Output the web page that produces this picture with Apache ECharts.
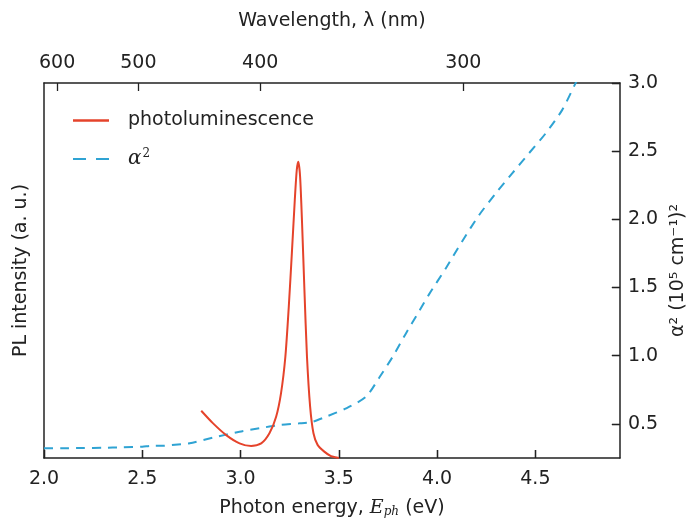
<!DOCTYPE html>
<html>
<head>
<meta charset="UTF-8">
<title>PL and absorption</title>
<script src="https://cdn.jsdelivr.net/npm/echarts@6/dist/echarts.min.js"></script>
<style>
  html, body { margin: 0; padding: 0; background: #fff; }
  #chart { width: 696px; height: 525px; }
</style>
</head>
<body>
<div id="chart"></div>
<script>
// photon energy (eV) <-> wavelength (nm)
const HC = 1240;

// bottom / top / right tick labels
const energyTicks = [2.0, 2.5, 3.0, 3.5, 4.0, 4.5];
const wavelengthTicks = [600, 500, 400, 300];
const alphaTicks = [0.5, 1.0, 1.5, 2.0, 2.5, 3.0];

// photoluminescence (arbitrary units)
const plEnergy = [2.80, 2.859, 2.927, 2.995, 3.054, 3.105, 3.147, 3.181, 3.206, 3.228, 3.245, 3.262, 3.276, 3.286, 3.294,
  3.303, 3.313, 3.325, 3.338, 3.354, 3.371, 3.392, 3.426, 3.46, 3.482, 3.50];
const plIntensity = [0.126, 0.093, 0.061, 0.039, 0.032, 0.039, 0.066, 0.11, 0.173, 0.27, 0.40, 0.555, 0.688, 0.768, 0.79,
  0.75, 0.626, 0.448, 0.27, 0.137, 0.066, 0.035, 0.017, 0.005, 0.002, 0.0];

// alpha^2 (10^5 cm^-1)^2
const absEnergy = [2.00, 2.10, 2.20, 2.30, 2.40, 2.50, 2.55, 2.60, 2.70, 2.741, 2.859, 2.995, 3.096, 3.198, 3.299, 3.367,
  3.435, 3.537, 3.638, 3.706, 3.773, 3.84, 3.91, 3.959, 4.044, 4.128, 4.213, 4.298, 4.382, 4.467, 4.552, 4.636, 4.704, 4.72];
const absAlpha2 = [0.321, 0.322, 0.323, 0.325, 0.328, 0.333, 0.340, 0.340, 0.352, 0.358, 0.399, 0.443, 0.468, 0.492, 0.504, 0.516,
  0.553, 0.614, 0.699, 0.84, 0.99, 1.16, 1.33, 1.45, 1.64, 1.84, 2.03, 2.19, 2.337, 2.484, 2.63, 2.801, 2.997, 3.04];

const FONT = 'DejaVu Sans';
const INK = '#222';
const RED = '#e5432b';
const BLUE = '#2fa3d3';
const E_MIN = 2.0, E_MAX = 4.93;
const A_MIN = 0.25, A_MAX = 3.0;

const chart = echarts.init(document.getElementById('chart'), null, { renderer: 'canvas' });

const frameLine = () => ({ show: true, onZero: false, lineStyle: { color: INK, width: 1.5 } });
const inTick = (vals) => ({ show: true, inside: true, length: 8, customValues: vals, lineStyle: { color: INK, width: 1.3 } });

chart.setOption({
  animation: false,
  textStyle: { fontFamily: FONT },
  grid: { left: 44, right: 75, top: 83, bottom: 67 },
  legend: {
    orient: 'vertical',
    left: 68,
    top: 106,
    itemWidth: 36,
    itemHeight: 2.5,
    itemGap: 18,
    data: [
      { name: 'photoluminescence', icon: 'rect' },
      { name: 'α²', icon: 'path://M0,0h13v2h-13z M23,0h13v2h-13z' }
    ],
    formatter: name => name === 'α²' ? '{g|α}{s|2}' : name,
    textStyle: {
      fontFamily: FONT, fontSize: 19, color: INK, padding: [0, 0, 0, 14],
      rich: {
        g: { fontFamily: 'DejaVu Serif', fontStyle: 'italic', fontSize: 20, color: INK },
        s: { fontFamily: 'DejaVu Serif', fontSize: 12, color: INK, verticalAlign: 'top', padding: [0, 0, 10, 1] }
      }
    }
  },
  xAxis: [
    {
      type: 'value', position: 'bottom', min: E_MIN, max: E_MAX,
      axisLine: frameLine(),
      axisTick: inTick(energyTicks),
      splitLine: { show: false },
      axisLabel: {
        customValues: energyTicks, margin: 12, fontSize: 19, color: INK, fontFamily: FONT,
        formatter: v => v.toFixed(1)
      },
      name: '{a|Photon energy, }{i|E}{sub|ph}{a| (eV)}',
      nameLocation: 'middle', nameGap: 40,
      nameTextStyle: {
        fontSize: 19, color: INK,
        rich: {
          a: { fontFamily: FONT, fontSize: 19, color: INK },
          i: { fontFamily: 'DejaVu Serif', fontStyle: 'italic', fontSize: 19, color: INK },
          sub: { fontFamily: 'DejaVu Serif', fontStyle: 'italic', fontSize: 12, color: INK, verticalAlign: 'bottom', padding: [8, 0, 0, 0] }
        }
      }
    },
    {
      type: 'value', position: 'top', min: E_MIN, max: E_MAX,
      axisLine: frameLine(),
      axisTick: inTick(wavelengthTicks.map(w => HC / w)),
      splitLine: { show: false },
      axisLabel: {
        customValues: wavelengthTicks.map(w => HC / w), margin: 10, fontSize: 19, color: INK, fontFamily: FONT,
        formatter: v => String(Math.round(HC / v))
      },
      name: 'Wavelength, λ (nm)',
      nameLocation: 'middle', nameGap: 52,
      nameTextStyle: { fontSize: 19, color: INK, fontFamily: FONT }
    },
    {
      // tick marks only, bottom edge
      type: 'value', position: 'bottom', min: E_MIN, max: E_MAX,
      axisLine: { show: false },
      axisTick: inTick(energyTicks),
      axisLabel: { show: false },
      splitLine: { show: false }
    }
  ],
  yAxis: [
    {
      type: 'value', position: 'left', min: 0, max: 1,
      axisLine: frameLine(),
      axisTick: { show: false },
      axisLabel: { show: false },
      splitLine: { show: false },
      name: 'PL intensity (a. u.)',
      nameLocation: 'middle', nameRotate: 90, nameGap: 13,
      nameTextStyle: { fontSize: 19, color: INK, fontFamily: FONT }
    },
    {
      type: 'value', position: 'right', min: A_MIN, max: A_MAX,
      axisLine: frameLine(),
      axisTick: inTick(alphaTicks),
      splitLine: { show: false },
      axisLabel: {
        customValues: alphaTicks, margin: 8, fontSize: 19, color: INK, fontFamily: FONT,
        formatter: v => v.toFixed(1)
      },
      name: 'α² (10⁵ cm⁻¹)²',
      nameLocation: 'middle', nameRotate: 90, nameGap: 14,
      nameTextStyle: { fontSize: 19, color: INK, fontFamily: FONT }
    },
    {
      // tick marks only, right edge
      type: 'value', position: 'right', min: A_MIN, max: A_MAX,
      axisLine: { show: false },
      axisTick: inTick(alphaTicks),
      axisLabel: { show: false },
      splitLine: { show: false }
    }
  ],
  series: [
    {
      name: 'photoluminescence', type: 'line', xAxisIndex: 0, yAxisIndex: 0,
      data: plEnergy.map((e, i) => [e, plIntensity[i]]),
      showSymbol: false, symbol: 'none', smooth: 0.25,
      lineStyle: { color: RED, width: 2 },
      itemStyle: { color: RED },
      clip: true, z: 3
    },
    {
      name: 'α²', type: 'line', xAxisIndex: 0, yAxisIndex: 1,
      data: absEnergy.map((e, i) => [e, absAlpha2[i]]),
      showSymbol: false, symbol: 'none', smooth: 0.25,
      lineStyle: { color: BLUE, width: 2, type: [9, 7] },
      itemStyle: { color: BLUE },
      clip: true, z: 2
    }
  ]
});

window.addEventListener('resize', () => chart.resize());
</script>
</body>
</html>
